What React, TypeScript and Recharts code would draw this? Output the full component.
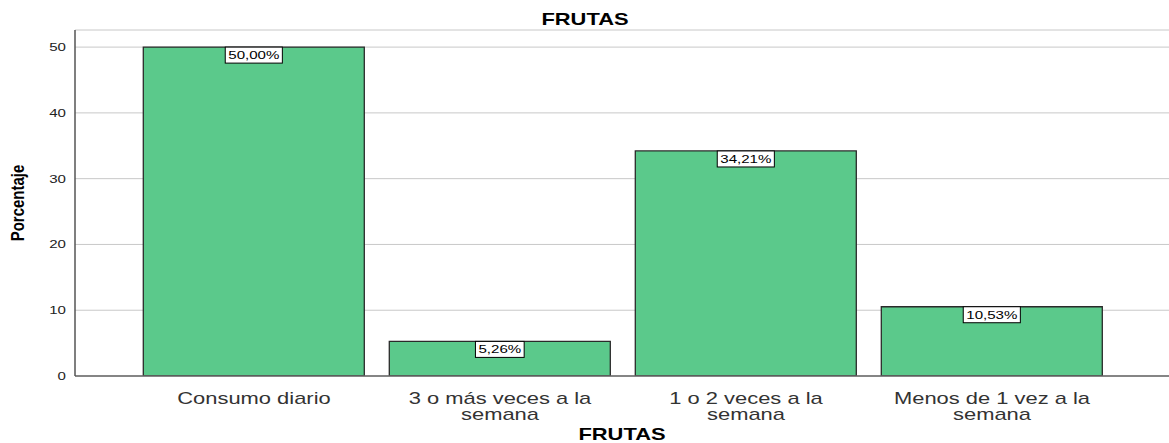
import React from 'react';
import { BarChart, Bar, XAxis, YAxis, CartesianGrid, LabelList } from 'recharts';

const categories = ['Consumo diario', '3 o más veces a la semana', '1 o 2 veces a la semana', 'Menos de 1 vez a la semana'];
const values = [50.0, 5.26, 34.21, 10.53];
const yTicks = [0, 10, 20, 30, 40, 50];

const data = categories.map((c, i) => ({ name: c, value: values[i] }));

const FONT = '"Liberation Sans", Arial, sans-serif';
const SX = 1.37;

const fmt = (v: number) => v.toFixed(2).replace('.', ',') + '%';

const charW = (ch: string) => {
  if (ch >= '0' && ch <= '9') return 0.556;
  if (ch === ',') return 0.278;
  if (ch === '%') return 0.889;
  return 0.556;
};

const XTick = (props: any) => {
  const { x, y, payload } = props;
  const text: string = payload.value;
  const words = text.split(' ');
  const lines = text.length > 16 ? [words.slice(0, -1).join(' '), words[words.length - 1]] : [text];
  return (
    <g transform={`translate(${x},${y})`}>
      <text transform={`scale(${SX},1)`} textAnchor="middle" fill="#333" fontSize={16} fontFamily={FONT}>
        {lines.map((l, i) => (
          <tspan key={i} x={0} y={20 + i * 16}>{l}</tspan>
        ))}
      </text>
    </g>
  );
};

const YTick = (props: any) => {
  const { x, y, payload } = props;
  return (
    <g transform={`translate(${x - 1},${y})`}>
      <text transform={`scale(${SX},1)`} textAnchor="end" dy={4} fill="#222" fontSize={11} fontFamily={FONT}>
        {payload.value}
      </text>
    </g>
  );
};

const BarLabel = (props: any) => {
  const { x, y, width, value } = props;
  const s = fmt(value);
  const tw = s.split('').reduce((a, c) => a + charW(c), 0) * 11 * SX;
  const bw = tw + 6;
  const cx = x + width / 2;
  return (
    <g>
      <rect x={cx - bw / 2} y={y} width={bw} height={16} fill="#fff" stroke="#000" strokeWidth={1} />
      <g transform={`translate(${cx},${y + 12})`}>
        <text transform={`scale(${SX},1)`} textAnchor="middle" fontSize={11} fill="#000" fontFamily={FONT}>{s}</text>
      </g>
    </g>
  );
};

export default function App() {
  return (
    <div style={{ position: 'absolute', left: 0, top: 0, width: 1169, height: 443, background: '#fff' }}>
      <BarChart
        width={1169}
        height={443}
        data={data}
        margin={{ top: 30, right: 0, left: 0, bottom: 0 }}
        barCategoryGap="5%"
      >
        <CartesianGrid vertical={false} stroke="#c8c8c8" strokeWidth={1} />
        <XAxis
          dataKey="name"
          height={67}
          padding={{ left: 56, right: 54 }}
          tickLine={false}
          axisLine={{ stroke: '#666', strokeWidth: 1.5 }}
          tick={<XTick />}
          interval={0}
        />
        <YAxis
          width={75}
          domain={[0, 52.6]}
          ticks={yTicks}
          tickLine={false}
          axisLine={{ stroke: '#555', strokeWidth: 1.5 }}
          tick={<YTick />}
          allowDataOverflow
        />
        <Bar dataKey="value" fill="#5bc98b" stroke="#2a2a2a" strokeWidth={1.3} isAnimationActive={false}>
          <LabelList dataKey="value" content={<BarLabel />} />
        </Bar>
      </BarChart>
      <svg width={1169} height={443} style={{ position: 'absolute', left: 0, top: 0, pointerEvents: 'none' }}>
        <g transform="translate(585,25)">
          <text transform={`scale(${SX},1)`} textAnchor="middle" fontSize={16} fontWeight="bold" fill="#000" fontFamily={FONT}>FRUTAS</text>
        </g>
        <g transform="translate(622,440)">
          <text transform={`scale(${SX},1)`} textAnchor="middle" fontSize={16} fontWeight="bold" fill="#000" fontFamily={FONT}>FRUTAS</text>
        </g>
        <g transform="translate(24,203)">
          <text transform="scale(1.2,1) rotate(-90)" textAnchor="middle" fontSize={15} fontWeight="bold" fill="#000" fontFamily={FONT}>Porcentaje</text>
        </g>
      </svg>
    </div>
  );
}
